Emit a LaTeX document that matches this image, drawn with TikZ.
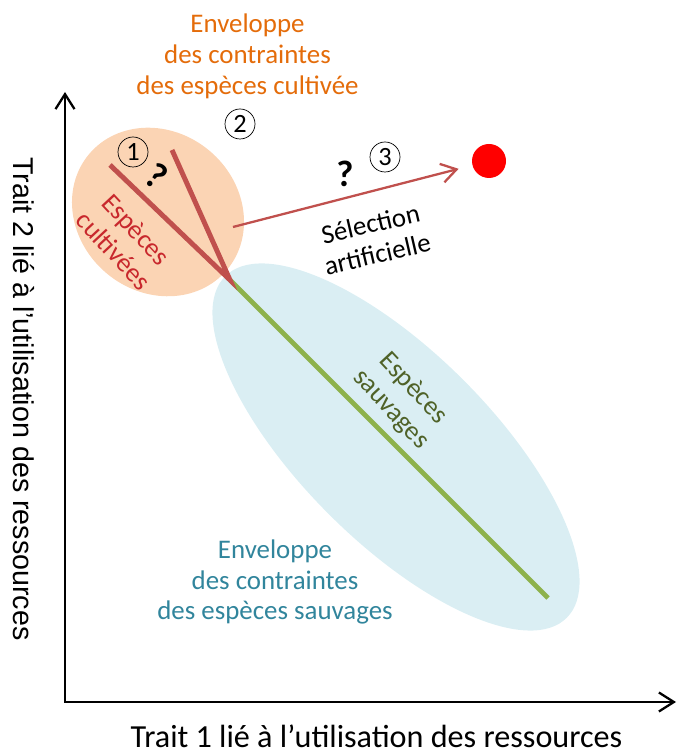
\documentclass[tikz,border=0pt]{standalone}
\usepackage{fontspec}
\setmainfont{Carlito}
\newfontfamily\arialfont{Liberation Sans}
\usetikzlibrary{positioning}
\usetikzlibrary{shapes.geometric}
\usetikzlibrary{arrows.meta}
\definecolor{envorange}{HTML}{FBD4B4}
\definecolor{envblue}{HTML}{DAEEF3}
\definecolor{txtorange}{HTML}{E46C0A}
\definecolor{txtred}{HTML}{C8282D}
\definecolor{txtgreen}{HTML}{4F6228}
\definecolor{txtblue}{HTML}{31859C}
\definecolor{linered}{HTML}{C0504D}
\definecolor{linegreen}{HTML}{8DB24C}
\tikzset{lbl/.style={align=center,font=\fontsize{15.3}{17.6}\selectfont,inner sep=0pt}}
\tikzset{num/.style={draw,circle,minimum size=6mm,inner sep=0pt,font=\fontsize{15}{15}\selectfont}}
\tikzset{qm/.style={inner sep=0pt,font=\fontsize{21}{21}\selectfont\bfseries}}
\tikzset{barb/.tip={Straight Barb[length=3mm,width=3.8mm]}}
\tikzset{env/.style={ellipse,inner sep=0pt}}

\begin{document}
\begin{tikzpicture}
    \useasboundingbox (0,0) rectangle (13.56,15.1);

    \node[env, fill=envblue, minimum width=9.66cm, minimum height=3.8cm, rotate=-45] (wildenv) at (7.92,6.16) {};
    \node[env, fill=envorange, minimum width=3.6cm, minimum height=3.2cm, rotate=-40] (cultenv) at (3.16,10.86) {};

    \coordinate (O) at (1.3,1.06);
    \coordinate (ytop) at (1.3,13.26);
    \coordinate (xend) at (13.52,1.06);
    \coordinate (J) at (4.6,9.5);
    \coordinate (cult1) at (2.2,11.8);
    \coordinate (cult2) at (3.44,12.1);
    \coordinate (wild) at (10.96,3.14);
    \coordinate (selstart) at (4.66,10.56);

    \draw[line width=1.3pt, barb-barb] (ytop) -- (O) -- (xend);

    \draw[linegreen, line width=2.8pt] (J) -- (wild);
    \draw[linered, line width=2.8pt] (cult1) -- (J) -- (cult2);

    \node[circle, fill=red, minimum size=6.8mm, inner sep=0pt] (target) at (9.78,11.88) {};
    \draw[linered, line width=1.3pt, -barb, shorten >=2.8mm] (selstart) -- (target);

    \node[lbl, text=txtorange] (cultenvtxt) at (4.95,13.98) {Enveloppe\\des contraintes\\des espèces cultivée};
    \node[lbl, text=txtblue] (wildenvtxt) at (5.5,3.46) {Enveloppe\\des contraintes\\des espèces sauvages};
    \node[lbl, text=txtred, rotate=-47] (cultlbl) at (2.5,10.3) {Espèces\\cultivées};
    \node[lbl, rotate=13] (sellbl) at (7.48,10.32) {Sélection\\artificielle};
    \node[lbl, text=txtgreen, rotate=-47] (wildlbl) at (8.04,7.12) {Espèces\\sauvages};

    \node[num] (n1) at (2.66,12.06) {1};
    \node[num] (n2) at (4.8,12.62) {2};
    \node[num] (n3) at (7.7,11.96) {3};
    \node[qm, rotate=-35] (q1) at (3.14,11.58) {?};
    \node[qm] (q3) at (6.9,11.62) {?};

    \node[anchor=base, inner sep=0pt, font=\fontsize{18.3}{18.3}\selectfont] (xlbl) at (7.53,0.14) {Trait 1 lié à l’utilisation des ressources};
    \node[font=\arialfont\fontsize{16.3}{16.3}\selectfont, rotate=-90, inner sep=0pt] (ylbl) at (0.48,7.12) {Trait 2 lié à l’utilisation des ressources};
\end{tikzpicture}
\end{document}
